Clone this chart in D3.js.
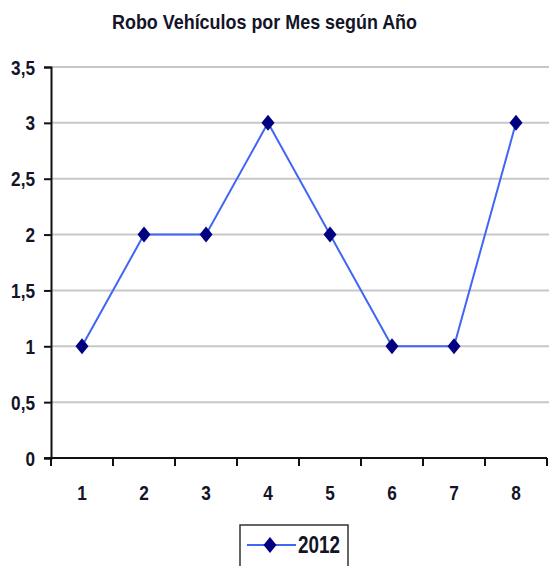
<!DOCTYPE html>
<html>
<head>
<meta charset="utf-8">
<script src="https://cdn.jsdelivr.net/npm/d3@7"></script>
<style>
  body { margin: 0; background: #fff; }
  text { font-family: "Liberation Sans", Arial, sans-serif; font-weight: bold; }
</style>
</head>
<body>
<div id="chart"></div>
<script>
// chart values
const months = ["1", "2", "3", "4", "5", "6", "7", "8"];
const robos2012 = [1, 2, 2, 3, 2, 1, 1, 3];
const yTicks = [0, 0.5, 1, 1.5, 2, 2.5, 3, 3.5];
const seriesName = "2012";
const title = "Robo Vehículos por Mes según Año";

const width = 549, height = 566;
const margin = {top: 67, right: 2, bottom: 108, left: 51};
const w = width - margin.left - margin.right;
const h = height - margin.top - margin.bottom;
const narrow = 0.82; // squeeze to look like a narrow font
const ink = "#141428";
const lineColor = "#4165f5";
const markColor = "#000080";

const svg = d3.select("#chart").append("svg")
    .attr("width", width)
    .attr("height", height);

svg.append("text")
    .attr("x", 112)
    .attr("y", 29)
    .attr("font-size", 21)
    .attr("fill", ink)
    .attr("textLength", 305)
    .attr("lengthAdjust", "spacingAndGlyphs")
    .text(title);

const g = svg.append("g")
    .attr("transform", `translate(${margin.left},${margin.top})`);

const x = d3.scaleBand().domain(months).range([0, w]);
const y = d3.scaleLinear().domain([0, 3.5]).range([h, 0]);

// gridlines
g.selectAll(".grid").data(yTicks.filter(d => d > 0))
    .enter().append("line")
    .attr("class", "grid")
    .attr("x1", 0).attr("x2", w + margin.right)
    .attr("y1", d => y(d)).attr("y2", d => y(d))
    .attr("stroke", "#c8c8c8")
    .attr("stroke-width", 2);

// y axis
const yAxis = d3.axisLeft(y)
    .tickValues(yTicks)
    .tickSize(7)
    .tickFormat("");
const ya = g.append("g").call(yAxis);
ya.select(".domain").attr("stroke", "#111").attr("stroke-width", 2);
ya.selectAll(".tick line").attr("stroke", "#111").attr("stroke-width", 2);
ya.selectAll(".tick text").remove();
g.selectAll(".ylab").data(yTicks)
    .enter().append("text")
    .attr("transform", d => `translate(-16,${y(d) + 7.5}) scale(${narrow},1)`)
    .attr("text-anchor", "end")
    .attr("font-size", 21)
    .attr("fill", ink)
    .text(d => String(d).replace(".", ","));

// x axis: ticks between categories
const xa = g.append("g").attr("transform", `translate(0,${h})`);
xa.append("line")
    .attr("x1", -7).attr("x2", w)
    .attr("stroke", "#111").attr("stroke-width", 2);
xa.selectAll(".xt").data(months.concat(["end"]))
    .enter().append("line")
    .attr("x1", (d, i) => i * x.bandwidth()).attr("x2", (d, i) => i * x.bandwidth())
    .attr("y1", 0).attr("y2", 8)
    .attr("stroke", "#111").attr("stroke-width", 2);
xa.selectAll(".xl").data(months)
    .enter().append("text")
    .attr("transform", d => `translate(${x(d) + x.bandwidth() / 2},42) scale(${narrow},1)`)
    .attr("text-anchor", "middle")
    .attr("font-size", 21)
    .attr("fill", ink)
    .text(d => d);

// line
const line = d3.line()
    .x((d, i) => x(months[i]) + x.bandwidth() / 2)
    .y(d => y(d));
g.append("path")
    .datum(robos2012)
    .attr("d", line)
    .attr("fill", "none")
    .attr("stroke", lineColor)
    .attr("stroke-width", 2);

// diamond marker, a bit taller than wide
const diamond = "M0,-8L6.5,0L0,8L-6.5,0Z";
g.selectAll(".pt").data(robos2012)
    .enter().append("path")
    .attr("d", diamond)
    .attr("transform", (d, i) => `translate(${x(months[i]) + x.bandwidth() / 2},${y(d)})`)
    .attr("fill", markColor);

// legend
const lg = svg.append("g").attr("transform", "translate(240,525)");
lg.append("rect")
    .attr("x", 0).attr("y", 0)
    .attr("width", 108).attr("height", 50)
    .attr("fill", "#fff")
    .attr("stroke", "#333")
    .attr("stroke-width", 1.5);
lg.append("line")
    .attr("x1", 7).attr("x2", 56)
    .attr("y1", 20).attr("y2", 20)
    .attr("stroke", lineColor).attr("stroke-width", 2);
lg.append("path")
    .attr("d", diamond)
    .attr("transform", "translate(30,20)")
    .attr("fill", markColor);
lg.append("text")
    .attr("transform", `translate(58,28) scale(${narrow},1)`)
    .attr("font-size", 23)
    .attr("fill", ink)
    .text(seriesName);
</script>
</body>
</html>
